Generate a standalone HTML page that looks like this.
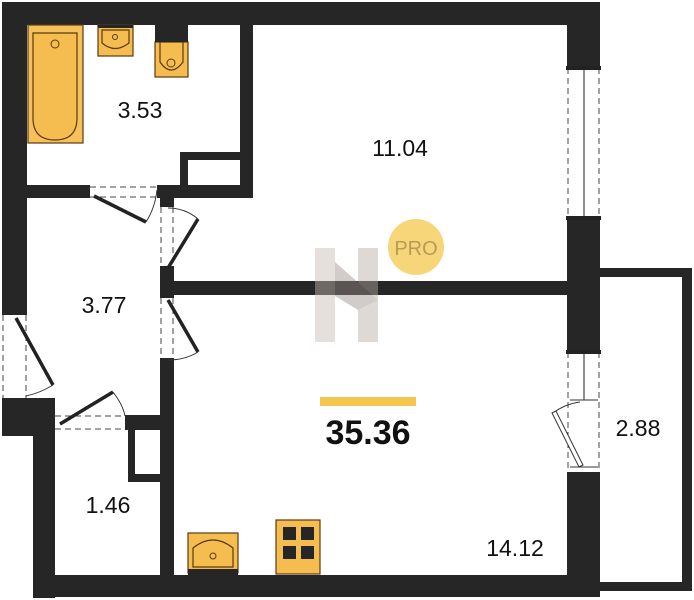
<!DOCTYPE html>
<html><head><meta charset="utf-8"><style>
html,body{margin:0;padding:0;background:#fff;}
svg{display:block;}
text{font-family:"Liberation Sans",sans-serif;fill:#111;}
</style></head><body>
<svg width="694" height="600" viewBox="0 0 694 600" xmlns="http://www.w3.org/2000/svg">
<g fill="#262626">
<rect x="2" y="2" width="598" height="23"/>
<rect x="2" y="2" width="25" height="313"/>
<rect x="2" y="398" width="53" height="38"/>
<rect x="33" y="418" width="22" height="180"/>
<rect x="33" y="575" width="567" height="22"/>
<rect x="567" y="2" width="33" height="66"/>
<rect x="567" y="218" width="33" height="134"/>
<rect x="567" y="472" width="33" height="125"/>
<rect x="240" y="2" width="13" height="196"/>
<rect x="180" y="152" width="60" height="8"/>
<rect x="180" y="152" width="8" height="34"/>
<rect x="25" y="185" width="65" height="13"/>
<rect x="157" y="185" width="96" height="13"/>
<rect x="160" y="185" width="14" height="22"/>
<rect x="160" y="266" width="14" height="32"/>
<rect x="160" y="358" width="14" height="220"/>
<rect x="160" y="281" width="407" height="14"/>
<rect x="25" y="415" width="30" height="15"/>
<rect x="125" y="415" width="48" height="15"/>
<rect x="128" y="430" width="7" height="52"/>
<rect x="128" y="474" width="32" height="8"/>
<rect x="600" y="268" width="92" height="9"/>
<rect x="682" y="268" width="10" height="322"/>
<rect x="600" y="582" width="92" height="9"/>
</g>
<g stroke="#444" stroke-width="1" stroke-dasharray="6,4" fill="none">
<line x1="568" y1="68" x2="568" y2="218"/><line x1="599" y1="68" x2="599" y2="218"/>
<line x1="568" y1="352" x2="568" y2="472"/><line x1="599" y1="352" x2="599" y2="472"/>
<line x1="3" y1="315" x2="3" y2="398"/><line x1="26" y1="315" x2="26" y2="398"/>
<line x1="90" y1="187" x2="157" y2="187"/><line x1="90" y1="197" x2="157" y2="197"/>
<line x1="161" y1="207" x2="161" y2="266"/><line x1="173" y1="207" x2="173" y2="266"/>
<line x1="161" y1="298" x2="161" y2="358"/><line x1="173" y1="298" x2="173" y2="358"/>
<line x1="55" y1="416" x2="125" y2="416"/><line x1="55" y1="429" x2="125" y2="429"/>
</g>
<g stroke="#222" stroke-width="1">
<line x1="584" y1="70" x2="584" y2="216"/>
<line x1="584" y1="354" x2="584" y2="400"/>
</g>
<g stroke="#222" stroke-width="2" fill="#222">
<rect x="567" y="67" width="33" height="2"/><rect x="567" y="217" width="33" height="2"/>
<rect x="567" y="351" width="33" height="2"/>
</g>
<g stroke="#222" stroke-width="3.5">
<line x1="94" y1="196" x2="146" y2="222"/>
<line x1="168" y1="268" x2="198" y2="219"/>
<line x1="168" y1="300" x2="198" y2="352"/>
<line x1="16" y1="318" x2="53" y2="385"/>
<line x1="60" y1="424" x2="113" y2="392"/>
</g>
<g stroke="#333" stroke-width="1" fill="none">
<path d="M146,222 Q155,208 157,190"/>
<path d="M198,219 Q185,208 168,208"/>
<path d="M198,352 Q185,360 168,360"/>
<path d="M53,385 Q40,393 26,396"/>
<path d="M113,392 Q123,405 125,416"/>
<line x1="570" y1="400" x2="598" y2="400"/>
<line x1="570" y1="467" x2="598" y2="467"/>
<path d="M553,413 Q565,404 580,402"/>
</g>
<path d="M552,413 L556,411 L583,465 L579,467 Z" fill="#fff" stroke="#333" stroke-width="1"/>
<g fill="#f5bd4f" stroke="#5a3a10" stroke-width="1.2">
<rect x="28" y="25" width="55" height="118" fill="#f7c05a"/>
<path d="M33,33 H77 V118 Q77,140 55,140 Q33,140 33,118 Z" fill="#f5bd4f"/>
<rect x="98" y="25" width="35" height="31"/>
<path d="M102,30 H129 V43 Q115,54 102,43 Z"/>
<rect x="155" y="42" width="33" height="35"/>
<path d="M160,42 H183 V62 Q171,78 160,62 Z"/>
<rect x="188" y="533" width="50" height="40"/>
<path d="M193,567 V548 Q213,532 233,548 V567 Z"/>
<rect x="276" y="520" width="44" height="54"/>
</g>
<rect x="155" y="25" width="33" height="17" fill="#262626"/>
<rect x="98" y="25" width="35" height="3" fill="#262626"/>
<rect x="188" y="569" width="50" height="6" fill="#262626"/>
<g fill="#262626">
<rect x="283" y="527" width="13" height="13"/><rect x="301" y="527" width="13" height="13"/>
<rect x="283" y="546" width="13" height="13"/><rect x="301" y="546" width="13" height="13"/>
</g>
<g fill="none" stroke="#5a3a10" stroke-width="1">
<circle cx="55" cy="44" r="4"/><circle cx="115" cy="37" r="2.5"/><circle cx="171" cy="63" r="4"/><circle cx="213" cy="556" r="3"/>
</g>
<g opacity="0.45">
<rect x="315" y="248" width="20" height="94" fill="#c8bcb4"/>
<rect x="358" y="248" width="20" height="94" fill="#b8aca4"/>
<polygon points="335,262 378,300 358,310 335,296" fill="#9a8f88"/>
</g>
<circle cx="416" cy="247" r="28" fill="#f7d67a"/>
<text x="416" y="255" text-anchor="middle" font-size="20" style="fill:#b89a5a">PRO</text>
<rect x="320" y="397" width="96" height="9" fill="#f5c64f"/>
<text x="368" y="444" text-anchor="middle" font-size="34" font-weight="bold">35.36</text>
<g font-size="23">
<text x="140" y="118" text-anchor="middle">3.53</text>
<text x="400" y="156" text-anchor="middle">11.04</text>
<text x="104" y="313" text-anchor="middle">3.77</text>
<text x="108" y="513" text-anchor="middle">1.46</text>
<text x="515" y="556" text-anchor="middle">14.12</text>
<text x="638" y="436" text-anchor="middle">2.88</text>
</g>
</svg>
</body></html>
